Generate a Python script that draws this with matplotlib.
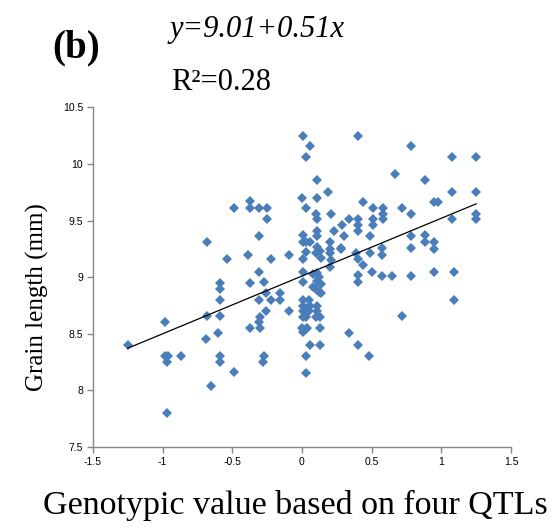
import matplotlib
matplotlib.use("Agg")
import matplotlib.pyplot as plt
import numpy as np

# genotypic value (x) and grain length in mm (y)
geno = [
    -1.25, -0.98, -0.98, -0.96, -0.97, -0.87, -0.97,
    -0.68, -0.68, -0.69, -0.65, -0.54,
    -0.59, -0.59, -0.59, -0.59, -0.60, -0.59, -0.59, -0.49, -0.49,
    -0.37, -0.37, -0.31, -0.31, -0.39, -0.31, -0.37, -0.31,
    -0.30, -0.31, -0.30, -0.37, -0.27, -0.28,
    -0.25, -0.25, -0.22, -0.27, -0.26, -0.22, -0.16, -0.16, -0.26, -0.095, -0.095,
    # around zero
    0.01, 0.06, 0.03, 0.11, 0.00, 0.11, 0.19, 0.03, 0.10, 0.11, 0.21,
    0.01, 0.01, 0.03, 0.06, 0.11, 0.11, 0.23, 0.20, 0.11, 0.13, 0.20, 0.28,
    0.03, 0.01, 0.10, 0.135, 0.20, 0.21, 0.20, 0.01, 0.08, 0.11,
    0.12, 0.11, 0.135, 0.01, 0.08, 0.10, 0.12, 0.135,
    0.01, 0.05, 0.01, 0.06, 0.04, 0.01, 0.05, 0.03, 0.01,
    0.11, 0.11, 0.10, 0.13, 0.00, 0.01, 0.03, 0.04, 0.13,
    0.06, 0.13, 0.03, 0.03,
    # right side
    0.40, 0.785, 0.67, 0.88, 0.44, 0.51, 0.58, 0.58, 0.58, 0.72, 0.785,
    0.34, 0.29, 0.40, 0.40, 0.40, 0.51, 0.51, 0.30, 0.49, 0.78,
    0.885, 0.885, 0.95, 0.95, 0.28, 0.39, 0.40, 0.44, 0.49, 0.575, 0.575, 0.785,
    0.40, 0.40, 0.50, 0.575, 0.65, 0.785, 0.72, 0.34, 0.40, 0.48,
    0.945, 0.98, 1.08, 1.25, 1.08, 1.25, 1.08, 1.25, 1.25, 0.945, 1.09, 1.09,
]
grain = [
    8.40, 8.60, 8.30, 8.30, 8.25, 8.30, 7.80,
    9.31, 8.66, 8.45, 8.04, 9.16,
    8.95, 8.90, 8.80, 8.66, 8.51, 8.30, 8.25, 8.16, 9.61,
    9.67, 9.61, 9.61, 9.36, 9.20, 9.05, 8.95, 8.80,
    8.65, 8.60, 8.55, 8.55, 8.30, 8.25,
    9.61, 9.51, 9.16, 8.96, 8.86, 8.80, 8.86, 8.80, 8.70, 8.70, 9.20,
    10.25, 10.16, 10.06, 9.86, 9.70, 9.70, 9.75, 9.61, 9.56, 9.51, 9.56,
    9.37, 9.31, 9.31, 9.31, 9.41, 9.36, 9.41, 9.31, 9.27, 9.23, 9.25, 9.25,
    9.22, 9.16, 9.21, 9.17, 9.21, 9.15, 9.09, 9.05, 9.03, 9.04,
    9.00, 8.97, 8.94, 8.96, 8.91, 8.90, 8.87, 8.86,
    8.80, 8.80, 8.75, 8.75, 8.73, 8.70, 8.70, 8.65, 8.65,
    8.75, 8.70, 8.65, 8.65, 8.55, 8.52, 8.54, 8.55, 8.55,
    8.40, 8.40, 8.30, 8.15,
    10.25, 10.16, 9.91, 9.86, 9.66, 9.61, 9.61, 9.56, 9.51, 9.61, 9.56,
    9.51, 9.46, 9.51, 9.46, 9.41, 9.51, 9.46, 9.36, 9.36, 9.36,
    9.37, 9.31, 9.31, 9.25, 9.26, 9.21, 9.16, 9.11, 9.21, 9.26, 9.20, 9.26,
    9.02, 8.96, 9.05, 9.01, 9.01, 9.01, 8.66, 8.51, 8.40, 8.30,
    9.66, 9.66, 10.06, 10.06, 9.75, 9.75, 9.51, 9.56, 9.51, 9.05, 9.05, 8.80,
]

intercept = 9.01
slope = 0.51
r2 = 0.28

xticks = [-1.5, -1, -0.5, 0, 0.5, 1, 1.5]
yticks = [7.5, 8, 8.5, 9, 9.5, 10, 10.5]

serif = "Liberation Serif"
grey = "#868686"

fig = plt.figure(figsize=(5.56, 5.31), dpi=100)
ax = fig.add_axes([0.167, 0.158, 0.752, 0.640])

ax.plot(geno, grain, linestyle="none", marker="D", ms=5.0,
        color="#4A7EBB", markeredgewidth=0)

xl = np.array([min(geno), max(geno)])
ax.plot(xl, intercept + slope * xl, color="black", lw=0.9)

ax.set_xlim(-1.5, 1.5)
ax.set_ylim(7.5, 10.5)
ax.set_xticks(xticks)
ax.set_yticks(yticks)
ax.set_xticklabels([f"{t:g}" for t in xticks], fontfamily="Liberation Sans", fontsize=7.5)
ax.set_yticklabels([f"{t:g}" for t in yticks], fontfamily="Liberation Sans", fontsize=7.5)

for s in ["top", "right"]:
    ax.spines[s].set_visible(False)
for s in ["left", "bottom"]:
    ax.spines[s].set_color(grey)
    ax.spines[s].set_linewidth(1.0)
ax.tick_params(direction="out", length=4, color=grey, width=1.0, pad=3)

fig.text(0.067, 0.441, "Grain length (mm)", fontfamily=serif, fontsize=18,
         rotation=90, ha="center", va="center")
fig.text(0.532, 0.048, "Genotypic value based on four QTLs",
         fontfamily=serif, fontsize=24.5, ha="center", va="center")

fig.text(0.094, 0.91, "(b)", fontfamily=serif, fontweight="bold",
         fontsize=28, ha="left", va="center")
fig.text(0.305, 0.945, f"y={intercept:.2f}+{slope:.2f}x", fontfamily=serif,
         style="italic", fontsize=22, ha="left", va="center")
fig.text(0.308, 0.845, f"R\u00b2={r2:.2f}", fontfamily=serif, fontsize=22,
         ha="left", va="center")

fig.savefig("out.png", dpi=100)
